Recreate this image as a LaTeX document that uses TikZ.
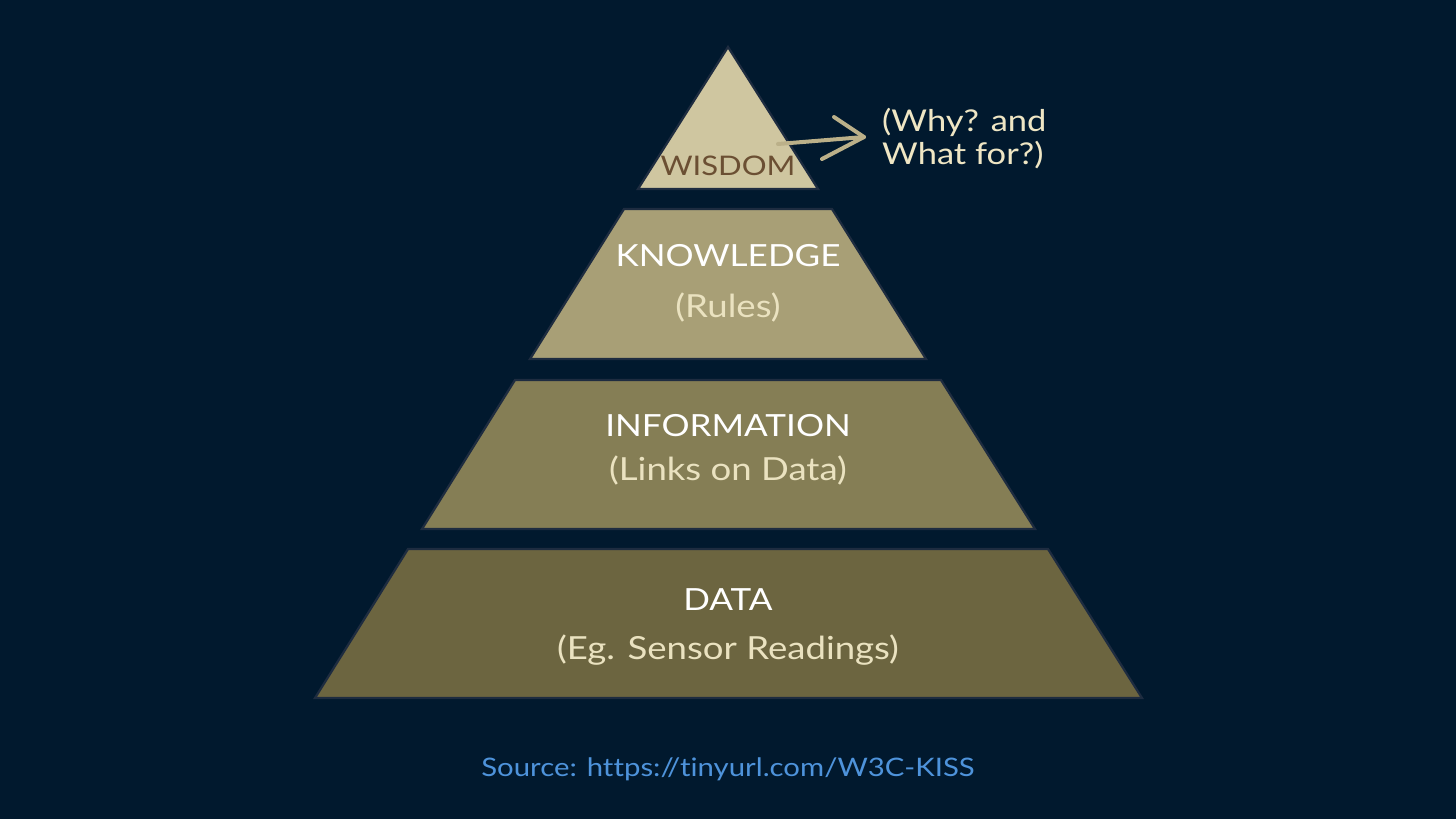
\documentclass[tikz,border=0pt]{standalone}
\usepackage{fontspec}
\setmainfont{Lato}[FakeStretch=1.15, Ligatures=NoCommon]
\definecolor{bg}{HTML}{01192E}
\definecolor{edge}{HTML}{1E2C40}
\definecolor{wisfill}{HTML}{CFC6A0}
\definecolor{knofill}{HTML}{A89F76}
\definecolor{inffill}{HTML}{857E55}
\definecolor{datfill}{HTML}{6C6540}
\definecolor{wistext}{HTML}{6B4F33}
\definecolor{subtext}{HTML}{EAE2C0}
\definecolor{whytext}{HTML}{EFE6C4}
\definecolor{arrowc}{HTML}{BBB089}
\definecolor{srctext}{HTML}{4E93DB}
\tikzset{
  layer/.style={draw=edge, line width=2.2pt, line join=miter},
  title/.style={text=white, font=\fontsize{30.5}{36}\selectfont, inner sep=0pt},
  sub/.style={text=subtext, font=\fontsize{31.8}{36}\selectfont, inner sep=0pt},
  brush/.style={draw=arrowc, line width=4pt, line cap=round, line join=round}
}
\begin{document}
\begin{tikzpicture}[x=1pt,y=-1pt]
\useasboundingbox[fill=bg] (0,0) rectangle (1456,819);
% layers
\path[layer, fill=wisfill] (728,47) -- (818,189) -- (638,189) -- cycle;
\path[layer, fill=knofill] (624,209) -- (832,209) -- (926,359) -- (530,359) -- cycle;
\path[layer, fill=inffill] (515,380) -- (941,380) -- (1035,529) -- (422,529) -- cycle;
\path[layer, fill=datfill] (408,549) -- (1048,549) -- (1142,698) -- (315,698) -- cycle;
% labels
\node[inner sep=0pt, text=wistext, font=\fontsize{27}{32}\selectfont] (wisdom) at (728,166) {WISDOM};
\node[title] (knowledge) at (728,256) {KNOWLEDGE};
\node[sub] (rules) at (728,307) {(Rules)};
\node[title] (information) at (728,426) {INFORMATION};
\node[sub] (links) at (728,470) {(Links on Data)};
\node[title] (data) at (728,600) {DATA};
\node[sub] (readings) at (728,650) {(Eg. Sensor Readings)};
\node[anchor=west, inner sep=0pt, text=whytext, align=left, font=\fontsize{30}{33}\selectfont] (why) at (882,139) {(Why? and\\What for?)};
\node[inner sep=0pt, text=srctext, font=\fontsize{25.5}{30}\selectfont] (source) at (728,769) {Source: https://tinyurl.com/W3C-KISS};
% arrow
\coordinate (astart) at (778,144);
\coordinate (atip) at ([xshift=-18pt,yshift=2pt]why.west);
\path[brush] (astart) -- (atip);
\path[brush] ([xshift=-42pt,yshift=-22pt]atip) -- (atip) -- ([xshift=-30pt,yshift=20pt]atip);
\end{tikzpicture}
\end{document}
